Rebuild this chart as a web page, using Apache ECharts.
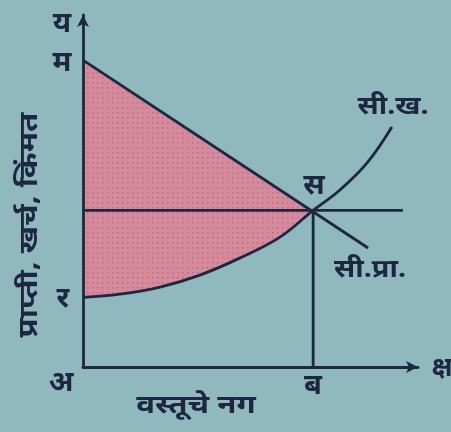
<!DOCTYPE html>
<html>
<head>
<meta charset="utf-8">
<script src="https://cdn.jsdelivr.net/npm/echarts@6/dist/echarts.min.js"></script>
<style>
  html, body { margin: 0; padding: 0; background: #8fb8bf; }
  #chart { width: 451px; height: 432px; }
</style>
</head>
<body>
<div id="chart"></div>
<script>
// marginal revenue (सी.प्रा.) is a straight line, marginal cost (सी.ख.) a rising curve
var mrX = [0, 85.1];
var mrY = [87.2, 33.8];
var mcX = [0, 11.0, 23.0, 34.9, 46.9, 58.8, 68.7, 76.7, 84.8, 92.2];
var mcY = [19.8, 20.7, 22.7, 26.1, 31.0, 36.9, 44.5, 50.3, 58.0, 68.2];
var equilibrium = [68.7, 44.5];     // स
var priceLineEnd = 95.5;            // horizontal price line runs to here

var bg = '#8fb8bf';
var ink = '#1d2840';
var font = '"Noto Sans", "DejaVu Sans", sans-serif';

function pairs(xs, ys) {
    return xs.map(function (x, i) { return [x, ys[i]]; });
}

// pink dotted fill
function dotPattern() {
    var c = document.createElement('canvas');
    c.width = 5;
    c.height = 5;
    var ctx = c.getContext('2d');
    ctx.fillStyle = '#d68b9d';
    ctx.fillRect(0, 0, 5, 5);
    ctx.fillStyle = '#b96d84';
    ctx.fillRect(2, 2, 1.5, 1.5);
    return c;
}

function label(text, x, y, size, sx) {
    return {
        type: 'text', x: x, y: y, scaleX: sx || 1, z: 100,
        style: { text: text, font: 'bold ' + size + 'px ' + font, fill: ink, align: 'center', verticalAlign: 'middle' }
    };
}

var myChart = echarts.init(document.getElementById('chart'));

var axisStyle = {
    z: 10,
    type: 'value', min: 0, max: 100,
    axisLine: { lineStyle: { color: ink, width: 2.8 }, symbol: ['none', 'arrow'], symbolSize: [9, 12] },
    axisTick: { show: false }, axisLabel: { show: false }, splitLine: { show: false }
};

var option = {
    backgroundColor: bg,
    animation: false,
    grid: { left: 83, right: 33, top: 15, bottom: 65 },
    xAxis: axisStyle,
    yAxis: axisStyle,
    series: [
        {
            // surplus region left of the equilibrium; the part under MC is masked by the MC area
            type: 'custom',
            silent: true,
            renderItem: function (params, api) {
                var pts = [[0, mrY[0]], equilibrium, [equilibrium[0], 0], [0, 0]].map(function (p) { return api.coord(p); });
                return {
                    type: 'polygon',
                    shape: { points: pts },
                    style: { fill: { image: dotPattern(), repeat: 'repeat' } }
                };
            },
            data: [0],
            z: 1
        },
        {
            type: 'line', smooth: 0.4, symbol: 'none',
            data: pairs(mcX, mcY),
            lineStyle: { color: ink, width: 2.8 },
            areaStyle: { color: bg, opacity: 1 },
            z: 2
        },
        {
            type: 'line', symbol: 'none',
            data: pairs(mrX, mrY),
            lineStyle: { color: ink, width: 2.8 }, z: 3
        },
        {
            type: 'line', symbol: 'none',
            data: [[0, equilibrium[1]], [priceLineEnd, equilibrium[1]]],
            lineStyle: { color: ink, width: 2.8 }, z: 3
        },
        {
            type: 'line', symbol: 'none',
            data: [[equilibrium[0], 0], equilibrium],
            lineStyle: { color: ink, width: 2.8 }, z: 3
        }
    ],
    graphic: [
        label('य', 62, 24, 29),
        label('म', 62, 63, 29),
        label('र', 63, 299, 29),
        label('अ', 61, 383, 29),
        label('ब', 313, 386, 29),
        label('क्ष', 442, 369, 26),
        label('स', 314, 186, 29),
        label('सी.ख.', 393, 107, 25, 1.15),
        label('सी.प्रा.', 370, 270, 25, 1.15),
        label('वस्तूचे नग', 196, 406, 26, 1.2),
        {
            type: 'text', x: 30, y: 225, rotation: Math.PI / 2, scaleX: 1.2, z: 100,
            style: { text: 'प्राप्ती, खर्च, किंमत', font: 'bold 26px ' + font, fill: ink, align: 'center', verticalAlign: 'middle' }
        }
    ]
};

myChart.setOption(option);
</script>
</body>
</html>
